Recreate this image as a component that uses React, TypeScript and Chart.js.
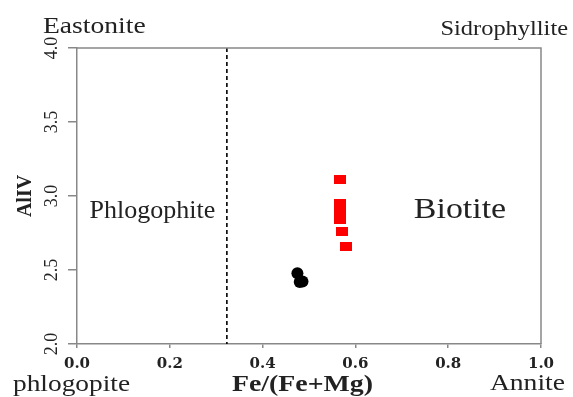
import { useEffect, useRef } from "react";
import { Chart, registerables } from "chart.js";

Chart.register(...registerables);

// Axis ticks
const xTicks = [0.0, 0.2, 0.4, 0.6, 0.8, 1.0];
const yTicks = [2.0, 2.5, 3.0, 3.5, 4.0];

// Biotite analyses (red squares): Fe/(Fe+Mg) vs AlIV
const biotiteFe = [0.567, 0.567, 0.566, 0.567, 0.572, 0.579];
const biotiteAl = [3.11, 2.95, 2.89, 2.84, 2.76, 2.66];

// Second group (black dots)
const groupFe = [0.475, 0.48, 0.486];
const groupAl = [2.478, 2.419, 2.422];

// Phlogopite / biotite divide
const boundaryFe = 0.323;

const AXIS_GREY = "#888888";
const TEXT = "#222222";

type Note = {
  text: string;
  x: number;
  y: number;
  size: number;
  sx: number;
  bold?: boolean;
  align: CanvasTextAlign;
  data?: boolean;
};

// Field names inside the plot are placed in data units, the end-member names in canvas pixels
const notes: Note[] = [
  { text: "Eastonite", x: 43, y: 32.5, size: 23, sx: 1.2, align: "left" },
  { text: "Sidrophyllite", x: 568, y: 35, size: 22, sx: 1.11, align: "right" },
  { text: "Phlogophite", x: 0.027, y: 2.851, size: 26, sx: 1.0, align: "left", data: true },
  { text: "Biotite", x: 0.726, y: 2.851, size: 30, sx: 1.13, align: "left", data: true },
  { text: "phlogopite", x: 13, y: 391, size: 23, sx: 1.19, align: "left" },
  { text: "Fe/(Fe+Mg)", x: 232, y: 391, size: 23, sx: 1.21, bold: true, align: "left" },
  { text: "Annite", x: 565, y: 390, size: 23, sx: 1.2, align: "right" },
];

const diagramPlugin = {
  id: "micaDiagram",
  beforeDatasetsDraw(chart: any) {
    const { ctx, chartArea, scales } = chart;
    const px = scales.x.getPixelForValue(boundaryFe);
    ctx.save();
    ctx.strokeStyle = "#000";
    ctx.lineWidth = 1.6;
    ctx.setLineDash([4, 3]);
    ctx.beginPath();
    ctx.moveTo(px, chartArea.top);
    ctx.lineTo(px, chartArea.bottom);
    ctx.stroke();
    ctx.restore();
  },
  afterDraw(chart: any) {
    const { ctx, chartArea, scales } = chart;
    ctx.save();
    // top and right frame
    ctx.strokeStyle = AXIS_GREY;
    ctx.lineWidth = 1.5;
    ctx.beginPath();
    ctx.moveTo(chartArea.left, chartArea.top);
    ctx.lineTo(chartArea.right, chartArea.top);
    ctx.lineTo(chartArea.right, chartArea.bottom);
    ctx.stroke();

    ctx.fillStyle = TEXT;
    ctx.textBaseline = "alphabetic";
    for (const n of notes) {
      const x = n.data ? scales.x.getPixelForValue(n.x) : n.x;
      const y = n.data ? scales.y.getPixelForValue(n.y) : n.y;
      ctx.save();
      ctx.translate(x, y);
      ctx.scale(n.sx, 1);
      ctx.font = `${n.bold ? "bold " : ""}${n.size}px "Liberation Serif", "Times New Roman", serif`;
      ctx.textAlign = n.align;
      ctx.fillText(n.text, 0, 0);
      ctx.restore();
    }
    ctx.restore();
  },
};

export default function App() {
  const canvasRef = useRef<HTMLCanvasElement | null>(null);

  useEffect(() => {
    document.body.style.margin = "0";
    const canvas = canvasRef.current;
    if (!canvas) return;

    const square = document.createElement("canvas");
    square.width = 12;
    square.height = 9;
    const sctx = square.getContext("2d")!;
    sctx.fillStyle = "#ff0000";
    sctx.fillRect(0, 0, 12, 9);

    const chart = new Chart(canvas, {
      type: "scatter",
      data: {
        datasets: [
          {
            label: "group",
            data: groupFe.map((x, i) => ({ x, y: groupAl[i] })),
            pointStyle: "circle",
            pointRadius: 6,
            backgroundColor: "#000",
            borderColor: "#000",
            borderWidth: 0,
          },
          {
            label: "biotite",
            data: biotiteFe.map((x, i) => ({ x, y: biotiteAl[i] })),
            pointStyle: square,
            pointRadius: 6,
            backgroundColor: "#ff0000",
            borderColor: "#ff0000",
          },
        ],
      },
      options: {
        responsive: false,
        animation: false,
        devicePixelRatio: 1,
        layout: { padding: { left: 0, top: 48, right: 32, bottom: 0 } },
        plugins: {
          legend: { display: false },
          tooltip: { enabled: false },
        },
        scales: {
          x: {
            type: "linear",
            min: 0,
            max: 1,
            afterBuildTicks: (s: any) => {
              s.ticks = xTicks.map((value) => ({ value }));
            },
            afterFit: (s: any) => {
              s.height = 53;
            },
            border: { display: true, color: AXIS_GREY, width: 1.5 },
            grid: {
              drawOnChartArea: false,
              drawTicks: true,
              tickLength: 4,
              color: AXIS_GREY,
              lineWidth: 1.5,
            },
            ticks: {
              padding: 7,
              color: TEXT,
              maxRotation: 0,
              font: { family: '"DejaVu Serif", serif', size: 15, weight: "bold" },
              callback: (v: any) => Number(v).toFixed(1),
            },
          },
          y: {
            type: "linear",
            min: 2,
            max: 4,
            afterBuildTicks: (s: any) => {
              s.ticks = yTicks.map((value) => ({ value }));
            },
            afterFit: (s: any) => {
              s.width = 77;
            },
            border: { display: true, color: AXIS_GREY, width: 1.5 },
            grid: {
              drawOnChartArea: false,
              drawTicks: true,
              tickLength: 9,
              color: AXIS_GREY,
              lineWidth: 1.5,
            },
            title: {
              display: true,
              text: "AlIV",
              color: TEXT,
              padding: { top: 14, bottom: 0 },
              font: { family: '"Liberation Serif", serif', size: 20, weight: "bold" },
            },
            ticks: {
              padding: 4,
              color: TEXT,
              minRotation: 90,
              maxRotation: 90,
              crossAlign: "center",
              font: { family: '"Liberation Serif", serif', size: 18 },
              callback: (v: any) => Number(v).toFixed(1),
            },
          },
        },
      },
      plugins: [diagramPlugin],
    } as any);

    return () => chart.destroy();
  }, []);

  return (
    <div style={{ width: 573, height: 397 }}>
      <canvas ref={canvasRef} width={573} height={397} />
    </div>
  );
}
